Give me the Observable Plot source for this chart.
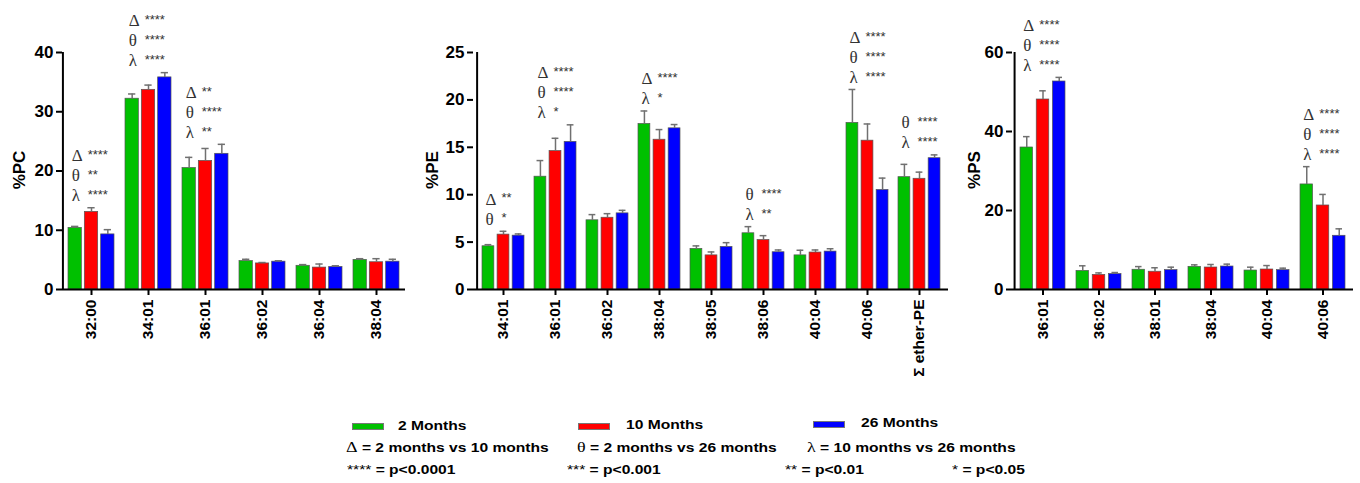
<!DOCTYPE html>
<html>
<head>
<meta charset="utf-8">
<script src="https://cdn.jsdelivr.net/npm/d3@7"></script>
<script src="https://cdn.jsdelivr.net/npm/@observablehq/plot@0.6"></script>
<style>
  html, body { margin: 0; padding: 0; background: #fff; }
  body { width: 1360px; height: 483px; position: relative; overflow: hidden;
         font-family: "Liberation Sans", Arial, Helvetica, sans-serif; color: #000; }
  .panel { position: absolute; top: 0; }
  .ylab { position: absolute; font-weight: bold; font-size: 17px; white-space: nowrap;
          transform: translate(-50%, -50%) rotate(-90deg); }
  #title { position: absolute; left: 718px; top: 20px; transform: translate(-50%, -50%);
           font-weight: bold; font-size: 18px; white-space: nowrap; }
  .lg { position: absolute; font-weight: bold; font-size: 13px; line-height: 16px; white-space: nowrap;
        transform: scaleX(1.2); transform-origin: 0 50%; }
  .lg .g { font-family: "Liberation Serif", "Times New Roman", serif; font-weight: normal; font-size: 15px; }
  .lg .st { font-weight: normal; }
  .sw { position: absolute; width: 30px; height: 5px; border: 1px solid #777; }
</style>
</head>
<body>
<div id="title">White Matter</div>
<div id="p1" class="panel" style="left:0px"></div>
<div id="p2" class="panel" style="left:420px"></div>
<div id="p3" class="panel" style="left:960px"></div>
<div class="ylab" style="left:20px; top:170px">%PC</div>
<div class="ylab" style="left:433px; top:170px">%PE</div>
<div class="ylab" style="left:975px; top:170px">%PS</div>
<div id="legend"></div>
<script>
// ---------------- data ----------------
const series = ["2 Months", "10 Months", "26 Months"];
const seriesColors = ["#00c000", "#ff0000", "#0000ff"];

// %PC
const pcCategories = ["32:00", "34:01", "36:01", "36:02", "36:04", "38:04"];
const pcMean2  = [10.4, 32.2, 20.5, 4.8, 4.0, 5.0];
const pcMean10 = [13.1, 33.7, 21.7, 4.4, 3.7, 4.6];
const pcMean26 = [9.3, 35.8, 22.9, 4.7, 3.8, 4.7];
const pcErr2   = [0.25, 0.8, 1.8, 0.3, 0.2, 0.2];
const pcErr10  = [0.7, 0.8, 2.1, 0.15, 0.6, 0.6];
const pcErr26  = [0.8, 0.8, 1.6, 0.15, 0.2, 0.4];
const pcTicks  = [0, 10, 20, 30, 40];
const pcStats = [
  {cat: "32:00", lines: [["Δ", "****"], ["θ", "**"], ["λ", "****"]]},
  {cat: "34:01", lines: [["Δ", "****"], ["θ", "****"], ["λ", "****"]]},
  {cat: "36:01", lines: [["Δ", "**"], ["θ", "****"], ["λ", "**"]]}
];

// %PE
const peCategories = ["34:01", "36:01", "36:02", "38:04", "38:05", "38:06", "40:04", "40:06", "Σ ether-PE"];
const peMean2  = [4.56, 11.9, 7.3, 17.46, 4.28, 5.93, 3.6, 17.57, 11.85];
const peMean10 = [5.79, 14.6, 7.57, 15.8, 3.6, 5.22, 3.9, 15.7, 11.68];
const peMean26 = [5.68, 15.57, 8.03, 17.0, 4.49, 3.93, 4.0, 10.5, 13.85];
const peErr2   = [0.17, 1.7, 0.6, 1.37, 0.32, 0.7, 0.54, 3.53, 1.35];
const peErr10  = [0.35, 1.35, 0.43, 1.07, 0.36, 0.46, 0.27, 1.76, 0.7];
const peErr26  = [0.18, 1.8, 0.32, 0.4, 0.45, 0.24, 0.3, 1.25, 0.35];
const peTicks  = [0, 5, 10, 15, 20, 25];
const peStats = [
  {cat: "34:01", lines: [["Δ", "**"], ["θ", "*"]]},
  {cat: "36:01", lines: [["Δ", "****"], ["θ", "****"], ["λ", "*"]]},
  {cat: "38:04", lines: [["Δ", "****"], ["λ", "*"]]},
  {cat: "38:06", lines: [["θ", "****"], ["λ", "**"]]},
  {cat: "40:06", lines: [["Δ", "****"], ["θ", "****"], ["λ", "****"]]},
  {cat: "Σ ether-PE", lines: [["θ", "****"], ["λ", "****"]]}
];

// %PS
const psCategories = ["36:01", "36:02", "38:01", "38:04", "40:04", "40:06"];
const psMean2  = [35.95, 4.7, 5.0, 5.74, 4.8, 26.6];
const psMean10 = [48.1, 3.7, 4.5, 5.57, 5.06, 21.27];
const psMean26 = [52.66, 3.9, 4.9, 5.82, 4.9, 13.6];
const psErr2   = [2.75, 1.3, 0.8, 0.5, 0.85, 4.5];
const psErr10  = [2.2, 0.5, 1.0, 0.76, 1.0, 2.8];
const psErr26  = [1.04, 0.4, 0.75, 0.6, 0.5, 1.76];
const psTicks  = [0, 20, 40, 60];
const psStats = [
  {cat: "36:01", lines: [["Δ", "****"], ["θ", "****"], ["λ", "****"]]},
  {cat: "40:06", lines: [["Δ", "****"], ["θ", "****"], ["λ", "****"]]}
];

// legend texts
const comparisonSymbols = ["Δ", "θ", "λ"];
const comparisonTexts = ["= 2 months vs 10 months", "= 2 months vs 26 months", "= 10 months vs 26 months"];
const pLevels = ["****", "***", "**", "*"];
const pTexts = ["= p<0.0001", "= p<0.001", "= p<0.01", "= p<0.05"];

// ---------------- drawing ----------------
function drawPanel(el, cfg) {
  const {cats, means, errs, stats, ticks, width, marginLeft, marginRight} = cfg;
  const yMax = ticks[ticks.length - 1];
  const n = cats.length;
  const plotW = width - marginLeft - marginRight;
  const step = plotW / n;          // paddingInner .2, paddingOuter .1
  const bw = step * 0.8;
  const sub = bw / 2.8;
  const barW = sub * 0.8;

  const rows = [];
  cats.forEach((c, i) => series.forEach((s, j) =>
    rows.push({cat: c, j, v: means[j][i], e: errs[j][i]})));

  const marks = [];
  series.forEach((s, j) => {
    const d = rows.filter(r => r.j === j);
    const off = j * sub;
    const mid = off + barW / 2;
    marks.push(Plot.barY(d, {x: "cat", y: "v", insetLeft: off, insetRight: bw - off - barW,
      fill: seriesColors[j], stroke: "#555", strokeWidth: 0.7}));
    marks.push(Plot.ruleX(d, {x: "cat", y1: "v", y2: r => r.v + r.e, dx: mid - bw / 2,
      stroke: "#707070", strokeWidth: 1.5}));
    marks.push(Plot.tickY(d, {x: "cat", y: r => r.v + r.e, insetLeft: mid - 3.5, insetRight: bw - mid - 3.5,
      stroke: "#707070", strokeWidth: 1.5}));
  });

  const ann = [];
  stats.forEach(st => {
    const top = d3.max(rows.filter(r => r.cat === st.cat), r => r.v + r.e);
    st.lines.forEach(([sym, stars], i) =>
      ann.push({cat: st.cat, sym, stars, top, k: st.lines.length - 1 - i}));
  });
  [0, 1, 2].forEach(k => {
    const d = ann.filter(a => a.k === k);
    marks.push(Plot.text(d, {x: "cat", y: "top", text: "sym", dx: -bw / 2 + 3, dy: -12 - 20 * k,
      textAnchor: "start", fontFamily: "Liberation Serif, Times New Roman, serif", fontSize: 17,
      fontWeight: "normal", fill: "#333"}));
    marks.push(Plot.text(d, {x: "cat", y: "top", text: "stars", dx: -bw / 2 + 19, dy: -13 - 20 * k,
      textAnchor: "start", fontSize: 13, fontWeight: "normal", fill: "#333"}));
  });

  marks.push(Plot.ruleY([0], {stroke: "black", strokeWidth: 2}));
  marks.push(Plot.ruleX([cats[0]], {y1: 0, y2: yMax, dx: -step / 2, stroke: "black", strokeWidth: 2}));
  marks.push(Plot.axisY({ticks, tickSize: 6, tickPadding: 3, fontSize: 17, fontWeight: "bold",
    strokeWidth: 2, label: null}));
  marks.push(Plot.axisX({tickRotate: -90, tickSize: 6, tickPadding: 4, fontSize: 15.5, fontWeight: "bold",
    strokeWidth: 2, label: null}));

  const svg = Plot.plot({
    width, height: 400,
    marginLeft, marginRight, marginTop: 52, marginBottom: 111,
    x: {type: "band", domain: cats, paddingInner: 0.2, paddingOuter: 0.1},
    y: {domain: [0, yMax]},
    style: {fontFamily: "Liberation Sans, Arial, sans-serif", color: "black", background: "white", overflow: "visible"},
    marks
  });
  document.getElementById(el).appendChild(svg);
}

drawPanel("p1", {cats: pcCategories, means: [pcMean2, pcMean10, pcMean26], errs: [pcErr2, pcErr10, pcErr26],
  stats: pcStats, ticks: pcTicks, width: 420, marginLeft: 62, marginRight: 15});
drawPanel("p2", {cats: peCategories, means: [peMean2, peMean10, peMean26], errs: [peErr2, peErr10, peErr26],
  stats: peStats, ticks: peTicks, width: 540, marginLeft: 53, marginRight: 12});
drawPanel("p3", {cats: psCategories, means: [psMean2, psMean10, psMean26], errs: [psErr2, psErr10, psErr26],
  stats: psStats, ticks: psTicks, width: 400, marginLeft: 52, marginRight: 7});

// ---------------- legend ----------------
const legend = document.getElementById("legend");
function addText(html, left, cy) {
  const d = document.createElement("div");
  d.className = "lg";
  d.style.left = left + "px";
  d.style.top = (cy - 8) + "px";
  d.innerHTML = html;
  legend.appendChild(d);
}
const swatchPos = [[352, 423, 398, 426], [578, 423, 626, 425], [813, 421, 861, 423]];
series.forEach((s, j) => {
  const sw = document.createElement("div");
  sw.className = "sw";
  sw.style.left = swatchPos[j][0] + "px";
  sw.style.top = swatchPos[j][1] + "px";
  sw.style.background = seriesColors[j];
  legend.appendChild(sw);
  addText(s, swatchPos[j][2], swatchPos[j][3]);
});
const compX = [346, 577, 807];
comparisonSymbols.forEach((g, i) =>
  addText(`<span class="g">${g}</span> ${comparisonTexts[i]}`, compX[i], 447));
const pX = [347, 567, 785, 952];
pLevels.forEach((p, i) =>
  addText(`<span class="st">${p}</span> ${pTexts[i]}`, pX[i], 470));
</script>
</body>
</html>
